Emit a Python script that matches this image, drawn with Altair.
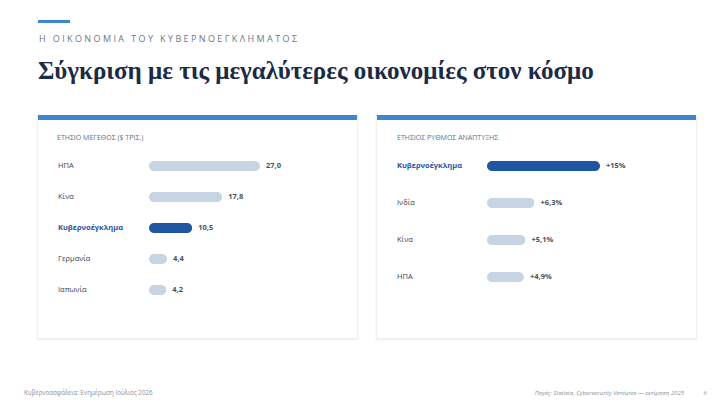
import altair as alt
import pandas as pd

# ---- data -------------------------------------------------------------
size_categories = ["ΗΠΑ", "Κίνα", "Κυβερνοέγκλημα", "Γερμανία", "Ιαπωνία"]
size_values = [27.0, 17.8, 10.5, 4.4, 4.2]

growth_categories = ["Κυβερνοέγκλημα", "Ινδία", "Κίνα", "ΗΠΑ"]
growth_values = [15.0, 6.3, 5.1, 4.9]

HIGHLIGHT = "Κυβερνοέγκλημα"

kicker = "Η ΟΙΚΟΝΟΜΙΑ ΤΟΥ ΚΥΒΕΡΝΟΕΓΚΛΗΜΑΤΟΣ"
title = "Σύγκριση με τις μεγαλύτερες οικονομίες στον κόσμο"
left_header = "ΕΤΗΣΙΟ ΜΕΓΕΘΟΣ ($ ΤΡΙΣ.)"
right_header = "ΕΤΗΣΙΟΣ ΡΥΘΜΟΣ ΑΝΑΠΤΥΞΗΣ"
footer_left = "Κυβερνοασφάλεια: Ενημέρωση Ιούλιος 2026"
footer_right = "Πηγές: Statista, Cybersecurity Ventures — εκτίμηση 2025"
page_no = "6"


def greek_num(v, decimals=1):
    s = f"{v:.{decimals}f}"
    return s.replace(".", ",")


def growth_label(v):
    s = f"{int(v)}" if float(v).is_integer() else greek_num(v)
    return f"+{s}%"


size_df = pd.DataFrame({
    "cat": size_categories,
    "value": size_values,
    "label": [greek_num(v) for v in size_values],
})
growth_df = pd.DataFrame({
    "cat": growth_categories,
    "value": growth_values,
    "label": [growth_label(v) for v in growth_values],
})

# ---- styling ----------------------------------------------------------
SANS = "Open Sans"
SERIF = "Liberation Serif"
NAVY = "#1b2a45"
BLUE_BAND = "#3d87d2"
DARK_BAR = "#1e56a2"
LIGHT_BAR = "#c7d4e3"
HEAD_GRAY = "#5c6f8c"
LABEL_GRAY = "#3d4350"

one = alt.Data(values=[{}])


def spaced(s):
    # widen the tracking of an all-caps line with thin spaces
    return "\u2009\u200a".join(list(s))


def box(x, x2, y, y2, color, opacity=1.0):
    return alt.Chart(one).mark_rect(color=color, opacity=opacity).encode(
        x=alt.value(x), x2=alt.value(x2), y=alt.value(y), y2=alt.value(y2)
    )


def text(s, x, y, size, color, weight="normal", font=SANS, align="left", style="normal"):
    return alt.Chart(one).mark_text(
        text=s, font=font, fontSize=size, color=color, fontWeight=weight,
        align=align, baseline="alphabetic", fontStyle=style,
    ).encode(x=alt.value(x), y=alt.value(y))


def card(x0, x1, y0, y1):
    return [
        box(x0 - 2, x1 + 2, y0 - 1, y1 + 3, "#000000", 0.02),
        box(x0 - 1, x1 + 1, y0, y1 + 2, "#000000", 0.035),
        box(x0, x1, y0, y1, "#ffffff"),
        box(x0, x1, y0, y0 + 5, BLUE_BAND),
    ]


def panel(df, cats, xdomain, xrange, yrange, label_x):
    xs = alt.Scale(domain=xdomain, range=xrange, nice=False, zero=True)
    ys = alt.Scale(type="point", domain=cats, range=yrange, padding=0)
    base = alt.Chart(df)
    bars = base.mark_bar(size=10, cornerRadius=5).encode(
        x=alt.X("value:Q", scale=xs, axis=None),
        y=alt.Y("cat:N", scale=ys, axis=None),
        color=alt.condition(alt.datum.cat == HIGHLIGHT, alt.value(DARK_BAR), alt.value(LIGHT_BAR)),
    )
    values = base.mark_text(
        align="left", baseline="middle", dx=6, font=SANS, fontSize=7.5,
        fontWeight="bold", color="#4a4f58",
    ).encode(
        x=alt.X("value:Q", scale=xs, axis=None),
        y=alt.Y("cat:N", scale=ys, axis=None),
        text="label:N",
    )
    names = base.transform_filter(alt.datum.cat != HIGHLIGHT).mark_text(
        align="left", baseline="middle", font=SANS, fontSize=7.5, color=LABEL_GRAY,
    ).encode(
        x=alt.value(label_x),
        y=alt.Y("cat:N", scale=ys, axis=None),
        text="cat:N",
    )
    hl_name = base.transform_filter(alt.datum.cat == HIGHLIGHT).mark_text(
        align="left", baseline="middle", font=SANS, fontSize=7.5, fontWeight="bold",
        color=DARK_BAR,
    ).encode(
        x=alt.value(label_x),
        y=alt.Y("cat:N", scale=ys, axis=None),
        text="cat:N",
    )
    return [bars, values, names, hl_name]


layers = []
# header block
layers.append(box(38, 70, 20, 23, BLUE_BAND))
layers.append(text(spaced(kicker), 39, 42, 9, "#6c7888"))
layers.append(text(title, 38, 79, 25, NAVY, weight="bold", font=SERIF))

# left card: annual size
layers += card(38, 357, 115, 338)
layers.append(text(left_header, 57, 140, 7, HEAD_GRAY))
layers += panel(size_df, size_categories, [0, 27], [149, 260], [166, 290], 58)

# right card: annual growth
layers += card(377, 696, 115, 338)
layers.append(text(right_header, 397, 140, 7, HEAD_GRAY))
layers += panel(growth_df, growth_categories, [0, 15], [487, 600], [166, 277], 397)

# footer
layers.append(text(footer_left, 24, 395, 6.2, "#8a8f98"))
layers.append(text(footer_right, 684, 395, 6, "#8a8f98", align="right", style="italic"))
layers.append(text(page_no, 707, 395, 6, "#8a8f98", align="right"))

chart = (
    alt.layer(*layers)
    .resolve_scale(x="independent", y="independent", color="independent")
    .properties(width=720, height=402, autosize=alt.AutoSizeParams(type="none"),
                padding=0, background="#ffffff")
    .configure_view(stroke=None)
)

chart.save("out.html", embed_options={"renderer": "svg", "actions": False})
